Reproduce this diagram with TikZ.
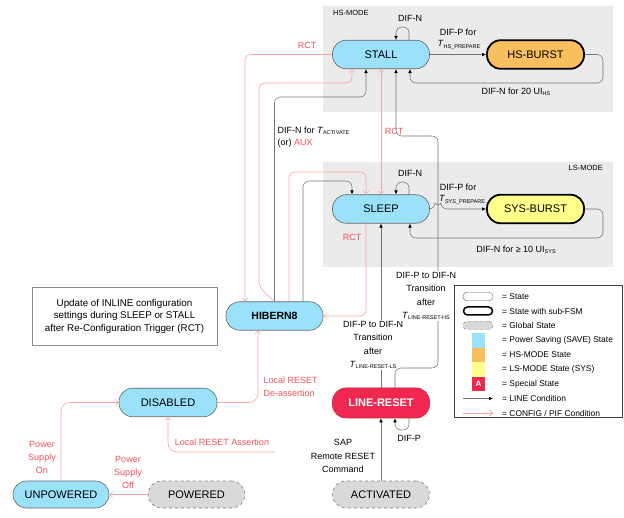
\documentclass[tikz,border=0pt]{standalone}
\usepackage{fontspec}
\setmainfont{Liberation Sans}
\usetikzlibrary{arrows.meta}
\definecolor{saveblue}{HTML}{9BE1FA}
\definecolor{hsorange}{HTML}{F9BF5E}
\definecolor{lsyellow}{HTML}{FFFF8C}
\definecolor{specred}{HTML}{F0284F}
\definecolor{modegray}{HTML}{EBEBEB}
\definecolor{globgray}{HTML}{D9D9D9}
\definecolor{pinkline}{HTML}{F6A5A5}
\definecolor{pinktext}{HTML}{F0505A}
\newcommand{\mysub}[1]{\raisebox{-1.3pt}{\fontsize{5.5}{6}\selectfont #1}}
\newcommand{\tvar}{\textit{T}}
\begin{document}
\begin{tikzpicture}[x=1pt,y=-1pt,
  state/.style={rectangle, rounded corners=13.5pt, draw=black!60, line width=0.6pt,
    minimum width=97pt, minimum height=28.5pt, inner sep=0pt, font=\fontsize{11}{13}\selectfont},
  save/.style={state, fill=saveblue},
  hsstate/.style={state, fill=hsorange, draw=black, line width=1.8pt},
  lsstate/.style={state, fill=lsyellow, draw=black, line width=1.8pt},
  globst/.style={state, fill=globgray, dashed, draw=black!50},
  special/.style={state, fill=specred, draw=specred!85!black, text=white, font=\fontsize{11}{13}\selectfont\bfseries},
  lbl/.style={font=\fontsize{9}{11}\selectfont, inner sep=0.5pt, align=center},
  plbl/.style={lbl, text=pinktext},
  ln/.style={draw=black!55, line width=0.55pt, rounded corners=6pt, -{Latex[length=4pt,width=3.5pt,color=black]}},
  pk/.style={draw=pinkline, line width=0.6pt, rounded corners=6pt, -{Straight Barb[length=3pt,width=6pt]}},
  lgt/.style={font=\fontsize{8.4}{10}\selectfont, anchor=west, inner sep=0pt},
  modebox/.style={fill=modegray, draw=none},
]
\useasboundingbox (0,0) rectangle (624,518);
% mode regions
\node[modebox, minimum width=290pt, minimum height=106pt, inner sep=0pt] (hsbox) at (468,59) {};
\node[modebox, minimum width=290pt, minimum height=105pt, inner sep=0pt] (lsbox) at (468,214.5) {};
\node[font=\fontsize{7.5}{9}\selectfont, anchor=west, inner sep=0pt] (hslabel) at (333,13) {HS-MODE};
\node[font=\fontsize{7.5}{9}\selectfont, anchor=east, inner sep=0pt] (lslabel) at (603,168) {LS-MODE};

% states
\node[save] (stall) at (381,54.5) {STALL};
\node[hsstate] (hsb) at (535.5,54.5) {HS-BURST};
\node[save] (sleep) at (381,209) {SLEEP};
\node[lsstate] (sysb) at (535.5,209) {SYS-BURST};
\node[save, font=\fontsize{10.5}{13}\selectfont\bfseries] (hib) at (274.5,316) {HIBERN8};
\node[save, minimum width=98pt] (dis) at (168,402.5) {DISABLED};
\node[special, minimum height=30pt] (lr) at (381,403) {LINE-RESET};
\node[globst, minimum height=27pt] (act) at (381,494.5) {ACTIVATED};
\node[globst, minimum height=27pt] (pow) at (196.5,494.5) {POWERED};
\node[save, minimum height=27pt, minimum width=96pt] (unp) at (61,494.5) {UNPOWERED};

% note box
\node[draw=black!45, fill=white, minimum width=185pt, minimum height=58pt, align=center,
  font=\fontsize{9.8}{12.5}\selectfont] (note) at (124.5,316)
  {Update of INLINE configuration\\settings during SLEEP or STALL\\after Re-Configuration Trigger (RCT)};

% HS mode transitions
\draw[ln] (stall.east) -- (hsb.west);
\node[lbl] (l1) at (458,32) {DIF-P for};
\node[lbl] (l2) at (459,45) {\tvar\mysub{HS\_PREPARE}};
\draw[ln] (hsb.east) -| (603,83) -| ([xshift=29pt]stall.south);
\node[lbl] (l3) at (516,92) {DIF-N for 20 UI\mysub{HS}};
\draw[ln] ([xshift=28pt]stall.north) |- (396,27) -- ([xshift=15pt]stall.north);
\node[lbl] (l4) at (410,18) {DIF-N};

% LS mode transitions
\draw[ln] (sleep.east) -- (435,209) .. controls (435,205) and (441,205) .. (441,209) -- (sysb.west);
\node[lbl] (l5) at (458,187) {DIF-P for};
\node[lbl] (l6) at (462,200) {\tvar\mysub{SYS\_PREPARE}};
\draw[ln] (sysb.east) -| (603,238) -| ([xshift=29pt]sleep.south);
\node[lbl] (l7) at (516,250) {DIF-N for ≥ 10 UI\mysub{SYS}};
\draw[ln] ([xshift=28pt]sleep.north) |- (396,182) -- ([xshift=15pt]sleep.north);
\node[lbl] (l8) at (410,173) {DIF-N};

% STALL <-> SLEEP RCT
\draw[pk, {Straight Barb[length=3pt,width=6pt]}-{Straight Barb[length=3pt,width=6pt]}] (stall.south) -- (sleep.north);
\node[plbl] (l9) at (394,131) {RCT};

% STALL -> HIBERN8
\draw[pk] (stall.west) -| ([xshift=-29.5pt]hib.north);
\node[plbl] (l10) at (307,45) {RCT};

% HIBERN8 -> STALL
\draw[pk] (hib.north) -- (259,287) -- (259,83) -| ([xshift=-29pt]stall.south);
\draw[ln] (hib.north) -- (274.5,97) -| ([xshift=-15pt]stall.south);
\node[lbl, align=left, anchor=west, font=\fontsize{9}{12}\selectfont] (l11) at (277,137)
  {DIF-N for \tvar\mysub{ACTIVATE}\\(or) \textcolor{pinktext}{AUX}};

% HIBERN8 -> SLEEP
\draw[pk] ([xshift=14.5pt]hib.north) |- (300,172) -| ([xshift=-15pt]sleep.north);
\draw[ln] ([xshift=28.5pt]hib.north) |- (320,181) -| ([xshift=-29pt]sleep.north);

% SLEEP -> HIBERN8
\draw[pk] ([xshift=-15pt]sleep.south) |- (hib.east);
\node[plbl] (l12) at (352,237) {RCT};

% LINE-RESET -> SLEEP
\draw[ln] (lr.north) -- (sleep.south);
\node[lbl, fill=white, font=\fontsize{9}{13.5}\selectfont] (l13) at (373,345)
  {DIF-P to DIF-N\\Transition\\after\\\tvar\mysub{LINE-RESET-LS}};

% LINE-RESET -> STALL
\draw[ln] ([xshift=14pt]lr.north) -- (395,368) -| (438,136) -| ([xshift=15pt]stall.south);
\node[lbl, fill=white, font=\fontsize{9}{13.5}\selectfont] (l14) at (426,296)
  {DIF-P to DIF-N\\Transition\\after\\\tvar\mysub{LINE-RESET-HS}};

% LINE-RESET self loop
\draw[ln] ([xshift=28pt]lr.south) |- (395,430) -- ([xshift=14pt]lr.south);
\node[lbl] (l15) at (409,438) {DIF-P};

% ACTIVATED -> LINE-RESET
\draw[ln] (act.north) -- (lr.south);
\node[lbl, font=\fontsize{9}{13.5}\selectfont] (l16) at (343,456) {SAP\\Remote RESET\\Command};

% power
\draw[pk] (pow.west) -- (unp.east);
\node[plbl, font=\fontsize{9}{13}\selectfont] (l17) at (128,472) {Power\\Supply\\Off};
\draw[pk, rounded corners=9pt] (unp.north) |- (dis.west);
\node[plbl, font=\fontsize{9}{13}\selectfont] (l18) at (42,457) {Power\\Supply\\On};
\draw[pk, rounded corners=9pt] (dis.east) -| ([xshift=-16.5pt]hib.south);
\node[plbl, align=left, anchor=west, font=\fontsize{9}{13}\selectfont] (l19) at (263,386.5) {Local RESET\\De-assertion};
\coordinate (lra) at (275,452);
\draw[pk, rounded corners=9pt] (lra) -| (dis.south);
\node[plbl] (l20) at (222,442) {Local RESET Assertion};

% legend
\node[draw=black!75, fill=white, line width=0.6pt, minimum width=168pt, minimum height=132pt, inner sep=0pt] (legend) at (538,351) {};
\node[draw=black!60, fill=white, rounded corners=4pt, minimum width=30pt, minimum height=8.5pt, inner sep=0pt] (lg1) at (478,296.5) {};
\node[lgt] (lt1) at (502,296.5) {= State};
\node[draw=black, line width=1.5pt, fill=white, rounded corners=4pt, minimum width=29pt, minimum height=8pt, inner sep=0pt] (lg2) at (478,311) {};
\node[lgt] (lt2) at (502,311) {= State with sub-FSM};
\node[draw=black!50, dashed, fill=globgray, rounded corners=4pt, minimum width=30pt, minimum height=8.5pt, inner sep=0pt] (lg3) at (478,325.5) {};
\node[lgt] (lt3) at (502,325.5) {= Global State};
\node[fill=saveblue, minimum width=13pt, minimum height=14.5pt, inner sep=0pt] (lg4) at (478.5,340.5) {};
\node[lgt] (lt4) at (502,340.5) {= Power Saving (SAVE) State};
\node[fill=hsorange, minimum width=13pt, minimum height=14.5pt, inner sep=0pt] (lg5) at (478.5,355) {};
\node[lgt] (lt5) at (502,355) {= HS-MODE State};
\node[fill=lsyellow, minimum width=13pt, minimum height=14.5pt, inner sep=0pt] (lg6) at (478.5,369.5) {};
\node[lgt] (lt6) at (502,369.5) {= LS-MODE State (SYS)};
\node[fill=specred, text=white, font=\fontsize{8}{9}\selectfont\bfseries, minimum width=13pt, minimum height=14.5pt, inner sep=0pt] (lg7) at (478.5,384) {A};
\node[lgt] (lt7) at (502,384) {= Special State};
\coordinate (la1) at (463,398.5);
\coordinate (la2) at (493,398.5);
\draw[ln] (la1) -- (la2);
\node[lgt] (lt8) at (502,398.5) {= LINE Condition};
\coordinate (lb1) at (463,413);
\coordinate (lb2) at (493,413);
\draw[pk] (lb1) -- (lb2);
\node[lgt] (lt9) at (502,413) {= CONFIG / PIF Condition};
\end{tikzpicture}
\end{document}
